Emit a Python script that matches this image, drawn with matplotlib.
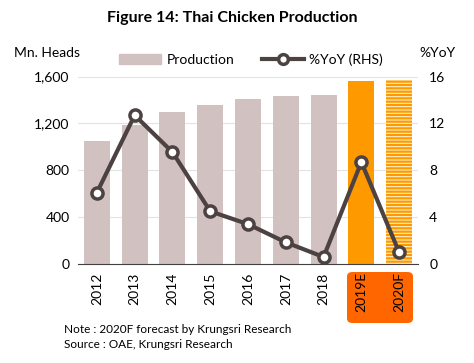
import numpy as np
import matplotlib.pyplot as plt
from matplotlib.patches import FancyBboxPatch
from matplotlib.lines import Line2D
from matplotlib.patches import Patch

plt.rcParams['font.family'] = ['Lato', 'DejaVu Sans']
plt.rcParams['hatch.linewidth'] = 1.6

years = ['2012', '2013', '2014', '2015', '2016', '2017', '2018', '2019E', '2020F']
production = [1049, 1185, 1297, 1357, 1408, 1434, 1443, 1560, 1572]
yoy = [6.1, 12.7, 9.55, 4.5, 3.4, 1.85, 0.6, 8.7, 1.0]

bar_col = '#D2C1C1'
orange = '#FF9900'
line_col = '#4D4242'

fig = plt.figure(figsize=(4.74, 3.63), dpi=100)
ax = fig.add_axes([0.1646, 0.2727, 0.7173, 0.5163])
x = np.arange(len(years))

colors = [bar_col] * 7 + [orange, '#FFF1C8']
bars = ax.bar(x, production, width=0.69, color=colors, zorder=2)
bars[-1].set_hatch('-----')
bars[-1].set_edgecolor(orange)
bars[-1].set_linewidth(0)

ax.set_xlim(-0.5, len(years) - 0.5)
ax.set_ylim(0, 1600)
ax.set_yticks([0, 400, 800, 1200, 1600])
ax.set_yticklabels(['0', '400', '800', '1,200', '1,600'])
ax.yaxis.grid(True, color='#E3E3E3', lw=0.8, zorder=0)
for s in ['top', 'right', 'left']:
    ax.spines[s].set_visible(False)
ax.spines['bottom'].set_color('#404040')
ax.tick_params(axis='y', length=0, labelsize=10, pad=6)
ax.tick_params(axis='x', length=0, labelsize=10, pad=6)
ax.set_xticks(x)
ax.set_xticklabels(years, rotation=90)

ax2 = ax.twinx()
ax2.plot(x, yoy, color=line_col, lw=3, marker='o', ms=8, mfc='white',
         mec=line_col, mew=2.5, zorder=3)
ax2.set_ylim(0, 16)
ax2.set_yticks([0, 4, 8, 12, 16])
for s in ['top', 'right', 'left', 'bottom']:
    ax2.spines[s].set_visible(False)
ax2.tick_params(axis='y', length=0, labelsize=10, pad=8)

# orange box behind forecast labels
box = FancyBboxPatch((347 / 474, 1 - 323 / 363), 66 / 474, 51 / 363,
                     boxstyle='round,pad=0,rounding_size=0.012',
                     transform=fig.transFigure, facecolor='#FF6600',
                     edgecolor='none', zorder=-1)
fig.patches.append(box)

fig.text(0.49, 0.95, 'Figure 14: Thai Chicken Production', ha='center',
         va='center', fontsize=11.5, fontweight='bold')
fig.text(0.03, 0.855, 'Mn. Heads', fontsize=10, va='center')
fig.text(0.96, 0.855, '%YoY', fontsize=10, va='center', ha='right')

handles = [Patch(color=bar_col),
           Line2D([], [], color=line_col, lw=3, marker='o', ms=7,
                  mfc='white', mec=line_col, mew=2.5)]
fig.legend(handles, ['Production', '%YoY (RHS)'], loc='center',
           bbox_to_anchor=(0.53, 0.835), ncol=2, frameon=False, fontsize=10,
           handlelength=3, columnspacing=2, handletextpad=0.4)

fig.text(0.135, 0.082, 'Note : 2020F forecast by Krungsri Research', fontsize=8.5)
fig.text(0.135, 0.04, 'Source : OAE, Krungsri Research', fontsize=8.5)

fig.savefig('out.png', dpi=100)
